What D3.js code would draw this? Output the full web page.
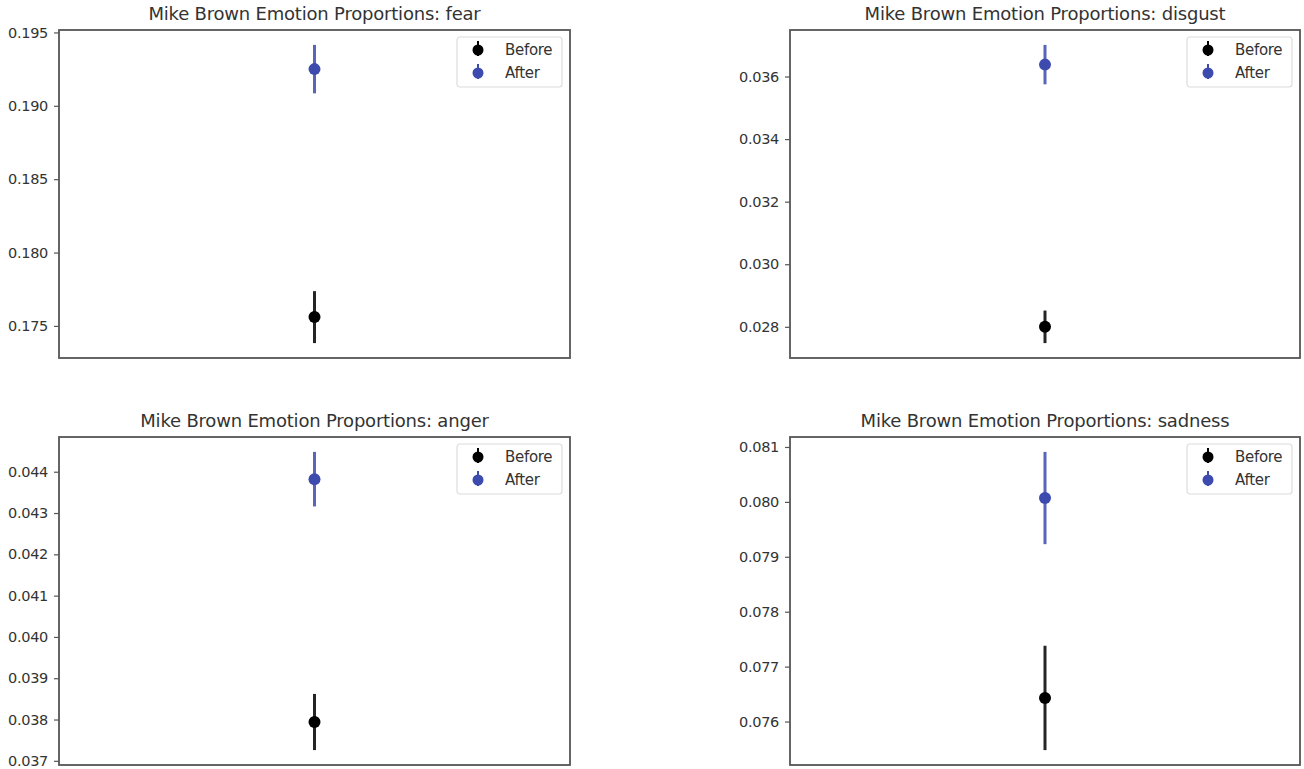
<!DOCTYPE html>
<html>
<head>
<meta charset="utf-8">
<script src="https://cdn.jsdelivr.net/npm/d3@7/dist/d3.min.js"></script>
<style>
  html, body { margin: 0; padding: 0; background: #fff; }
  svg { display: block; }
  text { font-family: "DejaVu Sans", sans-serif; fill: #333; }
</style>
</head>
<body>
<svg id="chart" width="1304" height="769"></svg>
<script>
// ---- data ----
const emotions = ["fear", "disgust", "anger", "sadness"];
const seriesNames = ["Before", "After"];
const beforeMean = [0.1756, 0.0280, 0.03794, 0.07643];
const beforeErr  = [0.00177, 0.00052, 0.00068, 0.00095];
const afterMean  = [0.1925, 0.03638, 0.04382, 0.08007];
const afterErr   = [0.00165, 0.00063, 0.00066, 0.00084];
const yTickValues = [
  [0.175, 0.180, 0.185, 0.190, 0.195],
  [0.028, 0.030, 0.032, 0.034, 0.036],
  [0.037, 0.038, 0.039, 0.040, 0.041, 0.042, 0.043, 0.044],
  [0.076, 0.077, 0.078, 0.079, 0.080, 0.081]
];

// ---- layout ----
const colors = { Before: "#000000", After: "#3c4bad" };
const panels = [
  { left: 59,  top: 30,  width: 511, height: 328 },
  { left: 790, top: 30,  width: 510, height: 328 },
  { left: 59,  top: 437, width: 511, height: 328 },
  { left: 790, top: 437, width: 510, height: 328 }
];

const svg = d3.select("#chart");

emotions.forEach((emo, i) => {
  const p = panels[i];
  const g = svg.append("g").attr("transform", `translate(${p.left},${p.top})`);

  const pts = [
    { name: "Before", mean: beforeMean[i], err: beforeErr[i] },
    { name: "After",  mean: afterMean[i],  err: afterErr[i] }
  ];
  const lo = d3.min(pts, d => d.mean - d.err);
  const hi = d3.max(pts, d => d.mean + d.err);
  const pad = (hi - lo) * 0.05;

  const y = d3.scaleLinear().domain([lo - pad, hi + pad]).range([p.height, 0]);
  const x = d3.scaleLinear().domain([-0.055, 0.055]).range([0, p.width]);

  // y axis
  const yAxis = d3.axisLeft(y).tickValues(yTickValues[i]).tickFormat(d3.format(".3f"))
    .tickSize(5).tickPadding(6);
  const ya = g.append("g").call(yAxis);
  ya.select(".domain").remove();
  ya.selectAll(".tick line").attr("stroke", "#555").attr("stroke-width", 1.2);
  ya.selectAll(".tick text").style("font-size", "14.5px").style("font-family", "DejaVu Sans, sans-serif")
    .style("letter-spacing", "-0.3px").attr("fill", "#3a3a3a");

  // frame
  g.append("rect").attr("x", 0).attr("y", 0).attr("width", p.width).attr("height", p.height)
    .attr("fill", "none").attr("stroke", "#555").attr("stroke-width", 1.8);

  // error bars
  g.selectAll(".err").data(pts).enter().append("line")
    .attr("x1", x(0)).attr("x2", x(0))
    .attr("y1", d => y(d.mean - d.err)).attr("y2", d => y(d.mean + d.err))
    .attr("stroke", d => colors[d.name]).attr("stroke-width", 3).attr("opacity", 0.85);
  g.selectAll(".pt").data(pts).enter().append("circle")
    .attr("cx", x(0)).attr("cy", d => y(d.mean)).attr("r", 6)
    .attr("fill", d => colors[d.name]);

  // title
  g.append("text").attr("x", p.width / 2).attr("y", -10).attr("text-anchor", "middle")
    .style("font-size", "18px").style("letter-spacing", "-0.2px").attr("fill", "#333")
    .text(`Mike Brown Emotion Proportions: ${emo}`);

  // legend
  const lw = 105, lh = 50;
  const lg = g.append("g").attr("transform", `translate(${p.width - lw - 8},${7})`);
  lg.append("rect").attr("width", lw).attr("height", lh).attr("rx", 3)
    .attr("fill", "#fff").attr("stroke", "#dcdcdc").attr("stroke-width", 1.2);
  seriesNames.forEach((s, j) => {
    const cy = 12 + j * 23;
    lg.append("line").attr("x1", 21).attr("x2", 21).attr("y1", cy - 8).attr("y2", cy + 7)
      .attr("stroke", colors[s]).attr("stroke-width", 2);
    lg.append("circle").attr("cx", 21).attr("cy", cy + 1).attr("r", 5.5).attr("fill", colors[s]);
    lg.append("text").attr("x", 48).attr("y", cy + 6).style("font-size", "15px")
      .style("letter-spacing", "-0.3px").attr("fill", "#333").text(s);
  });
});
</script>
</body>
</html>
